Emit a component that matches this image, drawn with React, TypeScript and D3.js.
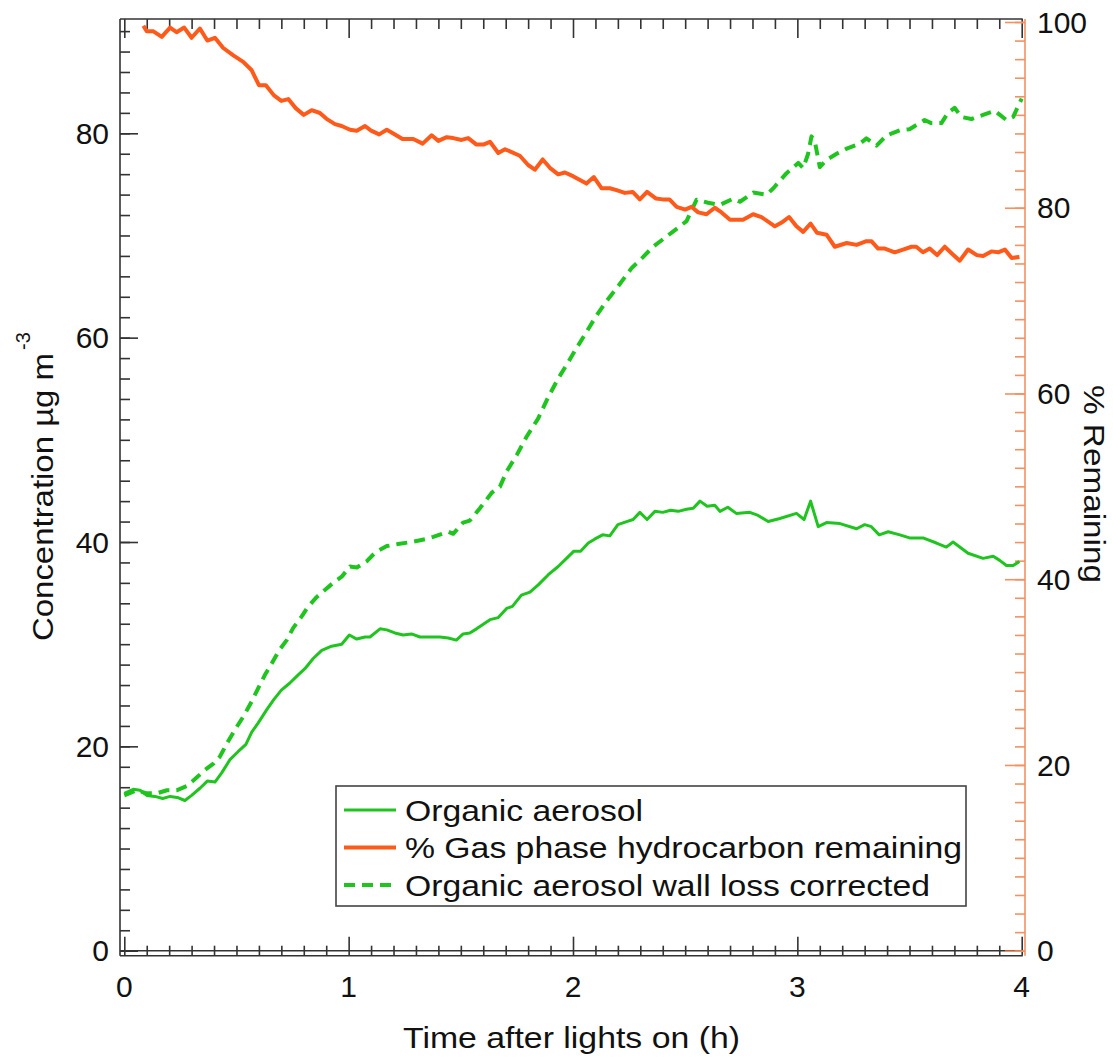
import React, { useEffect, useRef } from 'react';
import * as d3 from 'd3';

// % gas phase hydrocarbon remaining (right axis)
const gasTime = [
  0.085, 0.1, 0.13, 0.167, 0.204, 0.233, 0.267, 0.3, 0.337, 0.37, 0.404, 0.441, 0.486, 0.53, 0.568, 0.6,
  0.631, 0.667, 0.7, 0.731, 0.765, 0.8, 0.835, 0.872, 0.9, 0.939, 0.969, 1.006, 1.036, 1.073, 1.1, 1.136,
  1.17, 1.199, 1.24, 1.288, 1.33, 1.37, 1.4, 1.437, 1.466, 1.503, 1.533, 1.57, 1.6, 1.63, 1.667, 1.697,
  1.763, 1.8, 1.83, 1.865, 1.897, 1.934, 1.964, 2.0, 2.06, 2.093, 2.127, 2.164, 2.194, 2.231, 2.266, 2.298,
  2.33, 2.369, 2.4, 2.43, 2.462, 2.5, 2.528, 2.558, 2.595, 2.632, 2.662, 2.7, 2.758, 2.803, 2.84, 2.9,
  2.93, 2.963, 2.996, 3.026, 3.059, 3.088, 3.13, 3.167, 3.22, 3.264, 3.308, 3.33, 3.36, 3.39, 3.434, 3.471,
  3.509, 3.53, 3.56, 3.59, 3.623, 3.657, 3.692, 3.724, 3.761, 3.8, 3.828, 3.865, 3.895, 3.925, 3.955, 3.99,
];
const gasRemaining = [
  99.6, 99.0, 99.0, 98.4, 99.4, 98.9, 99.4, 98.3, 99.3, 98.0, 98.3, 97.2, 96.4, 95.7, 94.8, 93.2,
  93.2, 92.1, 91.5, 91.7, 90.7, 90.0, 90.5, 90.2, 89.6, 89.0, 88.8, 88.4, 88.3, 88.8, 88.3, 87.9,
  88.4, 88.0, 87.4, 87.4, 86.9, 87.8, 87.2, 87.6, 87.5, 87.3, 87.5, 86.8, 86.8, 87.1, 85.9, 86.3,
  85.6, 84.6, 84.1, 85.2, 84.3, 83.6, 83.8, 83.4, 82.6, 83.3, 82.1, 82.1, 81.9, 81.6, 81.7, 80.9,
  81.7, 81.0, 80.9, 80.9, 80.1, 79.8, 80.1, 79.5, 79.3, 80.0, 79.5, 78.7, 78.7, 79.3, 79.0, 78.0,
  78.4, 79.0, 78.0, 77.4, 78.3, 77.3, 77.1, 75.8, 76.2, 76.0, 76.4, 76.4, 75.6, 75.6, 75.2, 75.5,
  75.8, 75.8, 75.2, 75.6, 74.9, 75.8, 75.0, 74.3, 75.5, 74.9, 74.8, 75.3, 75.2, 75.5, 74.6, 74.7,
];

// organic aerosol (left axis)
const oaTime = [
  0.0, 0.04, 0.07, 0.1, 0.137, 0.171, 0.204, 0.236, 0.27, 0.3, 0.337, 0.37, 0.404, 0.434, 0.471, 0.508,
  0.542, 0.568, 0.597, 0.635, 0.667, 0.7, 0.738, 0.775, 0.805, 0.842, 0.88, 0.924, 0.969, 1.003, 1.036, 1.073,
  1.095, 1.14, 1.17, 1.206, 1.243, 1.28, 1.318, 1.362, 1.407, 1.444, 1.48, 1.51, 1.54, 1.57, 1.63, 1.667,
  1.704, 1.73, 1.77, 1.808, 1.845, 1.89, 1.934, 1.971, 2.004, 2.034, 2.068, 2.098, 2.132, 2.164, 2.2, 2.239,
  2.268, 2.298, 2.33, 2.365, 2.4, 2.435, 2.469, 2.506, 2.536, 2.566, 2.598, 2.632, 2.655, 2.69, 2.728, 2.788,
  2.825, 2.87, 2.922, 2.996, 3.03, 3.059, 3.093, 3.13, 3.19, 3.264, 3.3, 3.33, 3.365, 3.405, 3.457, 3.5,
  3.56, 3.62, 3.664, 3.694, 3.761, 3.828, 3.873, 3.902, 3.932, 3.962, 3.99,
];
const oaConc = [
  15.4, 15.8, 15.7, 15.2, 15.1, 14.9, 15.1, 15.0, 14.7, 15.2, 15.9, 16.6, 16.5, 17.4, 18.7, 19.5,
  20.2, 21.4, 22.3, 23.6, 24.6, 25.5, 26.2, 27.0, 27.6, 28.6, 29.4, 29.8, 30.0, 30.9, 30.5, 30.7,
  30.7, 31.5, 31.4, 31.1, 30.9, 31.0, 30.7, 30.7, 30.7, 30.6, 30.4, 31.0, 31.1, 31.5, 32.4, 32.6,
  33.5, 33.7, 34.8, 35.1, 35.8, 36.8, 37.6, 38.4, 39.1, 39.1, 39.9, 40.3, 40.7, 40.6, 41.7, 42.0,
  42.2, 42.9, 42.2, 43.0, 42.9, 43.1, 43.0, 43.2, 43.3, 44.0, 43.5, 43.6, 43.0, 43.4, 42.8, 42.9,
  42.6, 42.0, 42.3, 42.8, 42.2, 44.0, 41.5, 41.9, 41.8, 41.3, 41.7, 41.5, 40.7, 41.0, 40.7, 40.4,
  40.4, 39.9, 39.5, 40.0, 38.9, 38.4, 38.6, 38.2, 37.7, 37.7, 38.1,
];

// organic aerosol, wall loss corrected (left axis)
const oaCorrTime = [
  0.0, 0.055, 0.1, 0.144, 0.19, 0.233, 0.278, 0.315, 0.36, 0.397, 0.426, 0.463, 0.498, 0.533, 0.568, 0.597,
  0.627, 0.657, 0.69, 0.724, 0.753, 0.79, 0.82, 0.857, 0.894, 0.931, 0.969, 1.006, 1.036, 1.08, 1.12, 1.17,
  1.22, 1.28, 1.348, 1.377, 1.444, 1.466, 1.51, 1.54, 1.585, 1.637, 1.674, 1.704, 1.749, 1.793, 1.845, 1.89,
  1.934, 1.979, 2.016, 2.053, 2.1, 2.15, 2.2, 2.261, 2.313, 2.357, 2.417, 2.447, 2.506, 2.551, 2.602, 2.655,
  2.714, 2.744, 2.803, 2.863, 2.892, 2.952, 3.004, 3.026, 3.048, 3.063, 3.078, 3.1, 3.13, 3.175, 3.22, 3.279,
  3.308, 3.353, 3.398, 3.457, 3.5, 3.567, 3.597, 3.642, 3.671, 3.701, 3.731, 3.776, 3.828, 3.88, 3.932, 3.962,
  4.0,
];
const oaCorrConc = [
  15.2, 15.7, 15.4, 15.4, 15.7, 15.7, 16.1, 16.8, 17.7, 18.3, 19.0, 20.5, 21.8, 23.0, 24.4, 25.7,
  27.0, 28.1, 29.4, 30.4, 31.6, 32.7, 33.7, 34.6, 35.3, 36.0, 36.6, 37.6, 37.5, 38.1, 39.0, 39.6,
  39.8, 40.0, 40.3, 40.5, 41.0, 40.8, 41.9, 42.1, 43.3, 44.8, 45.4, 46.9, 48.5, 50.3, 52.1, 54.2,
  56.0, 57.6, 59.0, 60.3, 62.0, 63.6, 65.0, 66.8, 67.9, 68.9, 69.9, 70.4, 71.4, 73.5, 73.2, 73.0,
  73.6, 73.3, 74.2, 74.0, 74.6, 76.1, 77.1, 76.6, 78.0, 79.7, 79.2, 76.7, 77.4, 78.0, 78.5, 79.0,
  79.5, 78.8, 79.8, 80.3, 80.4, 81.3, 81.0, 81.0, 82.0, 82.5, 81.6, 81.4, 81.8, 82.2, 81.3, 81.6,
  83.4,
];

const xTicks = [0, 1, 2, 3, 4];
const leftTicks = [0, 20, 40, 60, 80];
const rightTicks = [0, 20, 40, 60, 80, 100];
const legendLabels = ['Organic aerosol', '% Gas phase hydrocarbon remaining', 'Organic aerosol wall loss corrected'];

const GREEN = '#1fc41f';
const ORANGE = '#ff5a1a';
const AXIS_ORANGE = '#f39162';
const INK = '#333';
const FONT = '"Liberation Sans", Arial, sans-serif';

const App: React.FC = () => {
  const svgRef = useRef<SVGSVGElement>(null);

  useEffect(() => {
    if (!svgRef.current) return;
    const svg = d3.select(svgRef.current);
    svg.selectAll('*').remove();

    const left = 120, right = 1025, top = 19, bottom = 955.7;

    const x = d3.scaleLinear().domain([0, 4]).range([124.3, 1021.7]);
    const yL = d3.scaleLinear().domain([0, 80]).range([950.7, 133.3]);
    const yR = d3.scaleLinear().domain([0, 100]).range([950.7, 22]);

    const g = svg.append('g');

    // frame lines
    g.append('line').attr('x1', left).attr('x2', left).attr('y1', top).attr('y2', bottom)
      .attr('stroke', INK).attr('stroke-width', 1.6);
    g.append('line').attr('x1', left).attr('x2', x(4) + 1).attr('y1', top).attr('y2', top)
      .attr('stroke', INK).attr('stroke-width', 1.6);
    g.append('line').attr('x1', left).attr('x2', x(4) + 1).attr('y1', bottom).attr('y2', bottom)
      .attr('stroke', INK).attr('stroke-width', 1.6);
    g.append('line').attr('x1', left).attr('x2', x(4) + 1).attr('y1', yL(0)).attr('y2', yL(0))
      .attr('stroke', INK).attr('stroke-width', 1.4);

    const styleAxis = (sel: any, color: string) => {
      sel.select('.domain').remove();
      sel.selectAll('.tick line').attr('stroke', color).attr('stroke-width', 1.6);
      sel.selectAll('.tick text').remove();
    };

    // x axes: ticks inward on top and bottom
    const xMinor = d3.range(0, 4.0001, 0.1).filter(v => Math.abs(v - Math.round(v)) > 1e-6);
    [[d3.axisBottom, top], [d3.axisTop, bottom]].forEach(([gen, pos]: any) => {
      g.append('g').attr('transform', `translate(0,${pos})`)
        .call(gen(x).tickValues(xMinor).tickSize(10)).call(styleAxis, INK);
      g.append('g').attr('transform', `translate(0,${pos})`)
        .call(gen(x).tickValues(xTicks).tickSize(19)).call(styleAxis, INK);
    });

    // left axis
    g.append('g').attr('transform', `translate(${left},0)`)
      .call(d3.axisRight(yL).tickValues(d3.range(0, 91, 2)).tickSize(10)).call(styleAxis, INK);
    g.append('g').attr('transform', `translate(${left},0)`)
      .call(d3.axisRight(yL).tickValues(leftTicks).tickSize(18)).call(styleAxis, INK);

    // right axis (orange)
    g.append('line').attr('x1', right).attr('x2', right).attr('y1', yR(100) - 3).attr('y2', bottom)
      .attr('stroke', AXIS_ORANGE).attr('stroke-width', 1.6);
    g.append('g').attr('transform', `translate(${right},0)`)
      .call(d3.axisLeft(yR).tickValues(d3.range(0, 101, 2)).tickSize(10)).call(styleAxis, AXIS_ORANGE);
    g.append('g').attr('transform', `translate(${right},0)`)
      .call(d3.axisLeft(yR).tickValues(rightTicks).tickSize(20)).call(styleAxis, AXIS_ORANGE);

    // tick labels
    const labels = g.append('g').attr('font-family', FONT).attr('font-size', 30).attr('fill', '#111');
    labels.selectAll('.xl').data(xTicks).join('text')
      .attr('x', d => x(d)).attr('y', 996.7).attr('text-anchor', 'middle').text(d => d);
    labels.selectAll('.yl').data(leftTicks).join('text')
      .attr('x', 109).attr('y', d => yL(d) + 10.7).attr('text-anchor', 'end').text(d => d);
    labels.selectAll('.yr').data(rightTicks).join('text')
      .attr('x', 1037).attr('y', d => yR(d) + 10.7).attr('text-anchor', 'start').text(d => d);

    // axis titles
    labels.append('text').attr('x', 403).attr('y', 1048).attr('textLength', 337)
      .attr('lengthAdjust', 'spacingAndGlyphs').text('Time after lights on (h)');
    labels.append('text').attr('transform', 'translate(53,641) rotate(-90)')
      .attr('textLength', 288).attr('lengthAdjust', 'spacingAndGlyphs').text('Concentration µg m');
    labels.append('text').attr('transform', 'translate(30,350) rotate(-90)')
      .attr('font-size', 20).text('-3');
    labels.append('text').attr('transform', 'translate(1084,484) rotate(90)')
      .attr('text-anchor', 'middle').attr('textLength', 198).attr('lengthAdjust', 'spacingAndGlyphs')
      .text('% Remaining');

    // series
    const lineL = d3.line<[number, number]>().x(d => x(d[0])).y(d => yL(d[1]));
    const lineR = d3.line<[number, number]>().x(d => x(d[0])).y(d => yR(d[1]));
    const zip = (a: number[], b: number[]) => a.map((t, i) => [t, b[i]] as [number, number]);

    g.append('path').attr('d', lineL(zip(oaCorrTime, oaCorrConc)))
      .attr('fill', 'none').attr('stroke', GREEN).attr('stroke-width', 4)
      .attr('stroke-dasharray', '11,7').attr('stroke-linejoin', 'round');
    g.append('path').attr('d', lineL(zip(oaTime, oaConc)))
      .attr('fill', 'none').attr('stroke', GREEN).attr('stroke-width', 3).attr('stroke-linejoin', 'round');
    g.append('path').attr('d', lineR(zip(gasTime, gasRemaining)))
      .attr('fill', 'none').attr('stroke', ORANGE).attr('stroke-width', 4).attr('stroke-linejoin', 'round');

    // legend
    const legend = g.append('g');
    legend.append('rect').attr('x', 336).attr('y', 786).attr('width', 630).attr('height', 120)
      .attr('fill', 'white').attr('stroke', '#444').attr('stroke-width', 1.6);
    const legendStyles = [
      { color: GREEN, width: 3, dash: null, len: 238 },
      { color: ORANGE, width: 4, dash: null, len: 557 },
      { color: GREEN, width: 4, dash: '11,7', len: 525 },
    ];
    const ly = d3.scaleLinear().domain([0, 2]).range([810, 885]);
    legendLabels.forEach((label, i) => {
      const s = legendStyles[i];
      legend.append('line').attr('x1', 344).attr('x2', 396).attr('y1', ly(i)).attr('y2', ly(i))
        .attr('stroke', s.color).attr('stroke-width', s.width).attr('stroke-dasharray', s.dash);
      legend.append('text').attr('x', 405).attr('y', ly(i) + 10.5)
        .attr('font-family', FONT).attr('font-size', 30).attr('fill', '#111')
        .attr('textLength', s.len).attr('lengthAdjust', 'spacingAndGlyphs').text(label);
    });
  }, []);

  return (
    <svg ref={svgRef} width={1113} height={1059}
      style={{ position: 'absolute', left: 0, top: 0, background: '#fff' }} />
  );
};

export default App;
